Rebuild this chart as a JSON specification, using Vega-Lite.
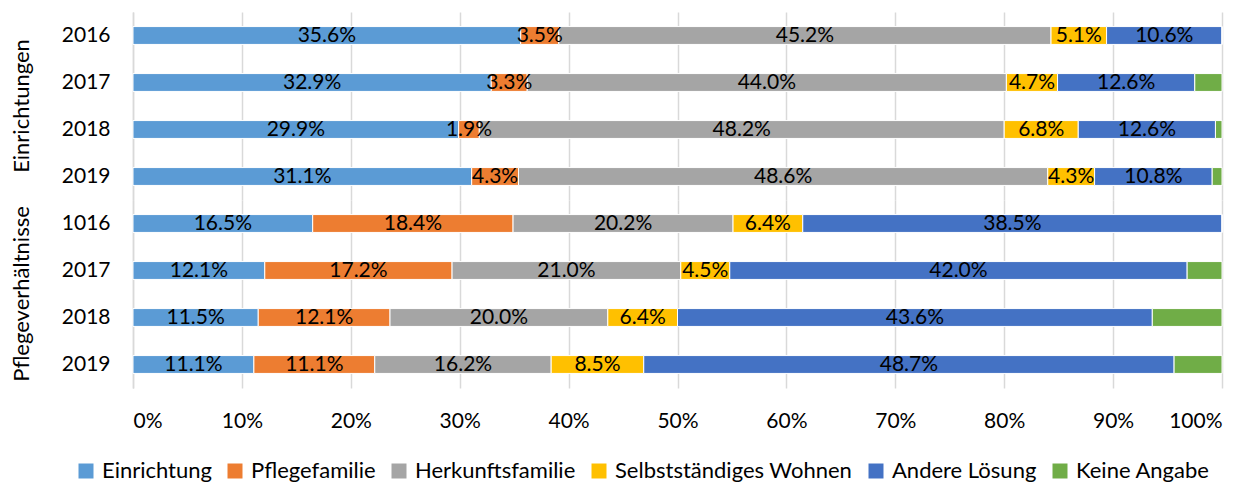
{
  "$schema": "https://vega.github.io/schema/vega-lite/v6.json",
  "background": "white",
  "padding": {"left": 10, "top": 12, "right": 30, "bottom": 0},
  "config": {"font": "Lato", "view": {"stroke": null}},
  "data": {"values": [
    {"group": "Einrichtungen", "year": "2016", "cat": "Einrichtung", "v": 0.356},
    {"group": "Einrichtungen", "year": "2016", "cat": "Pflegefamilie", "v": 0.035},
    {"group": "Einrichtungen", "year": "2016", "cat": "Herkunftsfamilie", "v": 0.452},
    {"group": "Einrichtungen", "year": "2016", "cat": "Selbstständiges Wohnen", "v": 0.051},
    {"group": "Einrichtungen", "year": "2016", "cat": "Andere Lösung", "v": 0.106},
    {"group": "Einrichtungen", "year": "2016", "cat": "Keine Angabe", "v": 0.0},
    {"group": "Einrichtungen", "year": "2017", "cat": "Einrichtung", "v": 0.329},
    {"group": "Einrichtungen", "year": "2017", "cat": "Pflegefamilie", "v": 0.033},
    {"group": "Einrichtungen", "year": "2017", "cat": "Herkunftsfamilie", "v": 0.44},
    {"group": "Einrichtungen", "year": "2017", "cat": "Selbstständiges Wohnen", "v": 0.047},
    {"group": "Einrichtungen", "year": "2017", "cat": "Andere Lösung", "v": 0.126},
    {"group": "Einrichtungen", "year": "2017", "cat": "Keine Angabe", "v": 0.025},
    {"group": "Einrichtungen", "year": "2018", "cat": "Einrichtung", "v": 0.299},
    {"group": "Einrichtungen", "year": "2018", "cat": "Pflegefamilie", "v": 0.019},
    {"group": "Einrichtungen", "year": "2018", "cat": "Herkunftsfamilie", "v": 0.482},
    {"group": "Einrichtungen", "year": "2018", "cat": "Selbstständiges Wohnen", "v": 0.068},
    {"group": "Einrichtungen", "year": "2018", "cat": "Andere Lösung", "v": 0.126},
    {"group": "Einrichtungen", "year": "2018", "cat": "Keine Angabe", "v": 0.006},
    {"group": "Einrichtungen", "year": "2019", "cat": "Einrichtung", "v": 0.311},
    {"group": "Einrichtungen", "year": "2019", "cat": "Pflegefamilie", "v": 0.043},
    {"group": "Einrichtungen", "year": "2019", "cat": "Herkunftsfamilie", "v": 0.486},
    {"group": "Einrichtungen", "year": "2019", "cat": "Selbstständiges Wohnen", "v": 0.043},
    {"group": "Einrichtungen", "year": "2019", "cat": "Andere Lösung", "v": 0.108},
    {"group": "Einrichtungen", "year": "2019", "cat": "Keine Angabe", "v": 0.009},
    {"group": "Pflegeverhältnisse", "year": "1016", "cat": "Einrichtung", "v": 0.165},
    {"group": "Pflegeverhältnisse", "year": "1016", "cat": "Pflegefamilie", "v": 0.184},
    {"group": "Pflegeverhältnisse", "year": "1016", "cat": "Herkunftsfamilie", "v": 0.202},
    {"group": "Pflegeverhältnisse", "year": "1016", "cat": "Selbstständiges Wohnen", "v": 0.064},
    {"group": "Pflegeverhältnisse", "year": "1016", "cat": "Andere Lösung", "v": 0.385},
    {"group": "Pflegeverhältnisse", "year": "1016", "cat": "Keine Angabe", "v": 0.0},
    {"group": "Pflegeverhältnisse", "year": "2017", "cat": "Einrichtung", "v": 0.121},
    {"group": "Pflegeverhältnisse", "year": "2017", "cat": "Pflegefamilie", "v": 0.172},
    {"group": "Pflegeverhältnisse", "year": "2017", "cat": "Herkunftsfamilie", "v": 0.21},
    {"group": "Pflegeverhältnisse", "year": "2017", "cat": "Selbstständiges Wohnen", "v": 0.045},
    {"group": "Pflegeverhältnisse", "year": "2017", "cat": "Andere Lösung", "v": 0.42},
    {"group": "Pflegeverhältnisse", "year": "2017", "cat": "Keine Angabe", "v": 0.032},
    {"group": "Pflegeverhältnisse", "year": "2018", "cat": "Einrichtung", "v": 0.115},
    {"group": "Pflegeverhältnisse", "year": "2018", "cat": "Pflegefamilie", "v": 0.121},
    {"group": "Pflegeverhältnisse", "year": "2018", "cat": "Herkunftsfamilie", "v": 0.2},
    {"group": "Pflegeverhältnisse", "year": "2018", "cat": "Selbstständiges Wohnen", "v": 0.064},
    {"group": "Pflegeverhältnisse", "year": "2018", "cat": "Andere Lösung", "v": 0.436},
    {"group": "Pflegeverhältnisse", "year": "2018", "cat": "Keine Angabe", "v": 0.064},
    {"group": "Pflegeverhältnisse", "year": "2019", "cat": "Einrichtung", "v": 0.111},
    {"group": "Pflegeverhältnisse", "year": "2019", "cat": "Pflegefamilie", "v": 0.111},
    {"group": "Pflegeverhältnisse", "year": "2019", "cat": "Herkunftsfamilie", "v": 0.162},
    {"group": "Pflegeverhältnisse", "year": "2019", "cat": "Selbstständiges Wohnen", "v": 0.085},
    {"group": "Pflegeverhältnisse", "year": "2019", "cat": "Andere Lösung", "v": 0.487},
    {"group": "Pflegeverhältnisse", "year": "2019", "cat": "Keine Angabe", "v": 0.044}
  ]},
  "transform": [
    {"stack": "v", "groupby": ["group", "year"], "offset": "normalize", "as": ["x0", "x1"]},
    {"calculate": "(datum.x0 + datum.x1) / 2", "as": "xm"}
  ],
  "facet": {
    "row": {
      "field": "group", "type": "nominal",
      "sort": ["Einrichtungen", "Pflegeverhältnisse"],
      "title": null,
      "header": {"labelAngle": -90, "labelOrient": "left", "labelFontSize": 22, "labelPadding": 17, "labelAlign": "center", "labelColor": "black"}
    }
  },
  "spacing": 0,
  "resolve": {"scale": {"y": "independent"}},
  "spec": {
    "width": 1089,
    "height": 188,
    "encoding": {
      "y": {
        "field": "year", "type": "nominal", "sort": "ascending",
        "scale": {"paddingInner": 0.62, "paddingOuter": 0.31},
        "axis": {"title": null, "domainColor": "#d9d9d9", "domainWidth": 1.5, "ticks": false, "labelFontSize": 21, "labelPadding": 23, "labelColor": "black"}
      }
    },
    "layer": [
      {
        "mark": {"type": "bar", "stroke": "white", "strokeWidth": 1},
        "encoding": {
          "x": {
            "field": "x0", "type": "quantitative", "scale": {"domain": [0, 1]},
            "axis": {"title": null, "format": ".0%", "domain": false, "ticks": false, "labelPadding": 22, "labelFontSize": 21, "labelColor": "black", "gridColor": "#d9d9d9", "gridWidth": 1.5, "values": [0, 0.1, 0.2, 0.3, 0.4, 0.5, 0.6, 0.7, 0.8, 0.9, 1]}
          },
          "x2": {"field": "x1"},
          "color": {
            "field": "cat", "type": "nominal",
            "scale": {
              "domain": ["Einrichtung", "Pflegefamilie", "Herkunftsfamilie", "Selbstständiges Wohnen", "Andere Lösung", "Keine Angabe"],
              "range": ["#5b9bd5", "#ed7d31", "#a5a5a5", "#ffc000", "#4472c4", "#70ad47"]
            },
            "legend": {"orient": "none", "legendX": -58, "legendY": 448, "direction": "horizontal", "title": null, "symbolType": "square", "symbolSize": 225, "symbolStrokeWidth": 0, "labelFontSize": 22, "labelColor": "black", "labelLimit": 400, "labelOffset": 5, "columnPadding": 12}
          }
        }
      },
      {
        "transform": [{"filter": "datum.cat !== 'Keine Angabe'"}],
        "mark": {"type": "text", "fontSize": 21, "color": "black"},
        "encoding": {
          "x": {"field": "xm", "type": "quantitative"},
          "text": {"field": "v", "type": "quantitative", "format": ".1%"}
        }
      }
    ]
  }
}
